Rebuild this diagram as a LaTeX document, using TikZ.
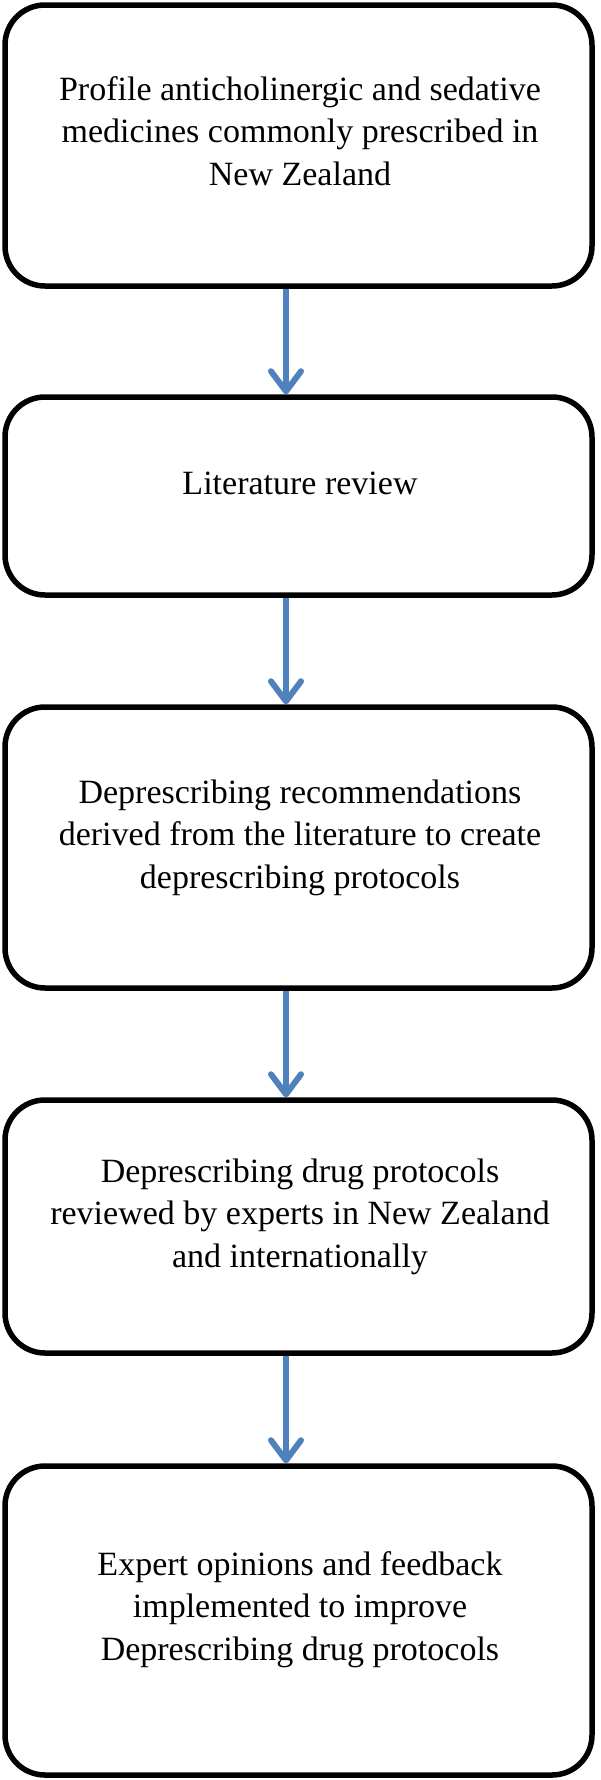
\documentclass[tikz,border=0pt]{standalone}
\usepackage{fontspec}
\setmainfont{Liberation Serif}
\usetikzlibrary{arrows.meta}
\definecolor{arrowblue}{HTML}{4F81BD}
\begin{document}
\begin{tikzpicture}[x=1pt,y=-1pt,
  stepbox/.style={draw=black,line width=5.5pt,rounded corners=40pt,minimum width=587pt,inner sep=0pt,fill=none},
  txt/.style={align=center,inner sep=0pt,font=\fontsize{34}{42.5}\selectfont},
  arr/.style={draw=arrowblue,line width=6pt,-{Straight Barb[length=20pt,width=30pt,round]}}]
\useasboundingbox[fill=white] (0,0) rectangle (600,1780);
\node[stepbox,minimum height=281pt] (b1) at (298.5,145.5) {};
\node[stepbox,minimum height=198pt] (b2) at (298.5,496) {};
\node[stepbox,minimum height=281pt] (b3) at (298.5,847.5) {};
\node[stepbox,minimum height=253pt] (b4) at (298.5,1226.5) {};
\node[stepbox,minimum height=309pt] (b5) at (298.5,1620.5) {};
\node[txt] (t1) at (300,131) {Profile anticholinergic and sedative\\medicines commonly prescribed in\\New Zealand};
\node[txt] (t2) at (300,483) {Literature review};
\node[txt] (t3) at (300,837.5) {Deprescribing recommendations\\derived from the literature to create\\deprescribing protocols};
\node[txt] (t4) at (300,1216.5) {Deprescribing drug protocols\\reviewed by experts in New Zealand\\and internationally};
\node[txt] (t5) at (300,1609.5) {Expert opinions and feedback\\implemented to improve\\Deprescribing drug protocols};
\coordinate (ax) at (286,0);
\draw[arr] (b1.south -| ax) -- (b2.north -| ax);
\draw[arr] (b2.south -| ax) -- (b3.north -| ax);
\draw[arr] (b3.south -| ax) -- (b4.north -| ax);
\draw[arr] (b4.south -| ax) -- (b5.north -| ax);
\end{tikzpicture}
\end{document}
